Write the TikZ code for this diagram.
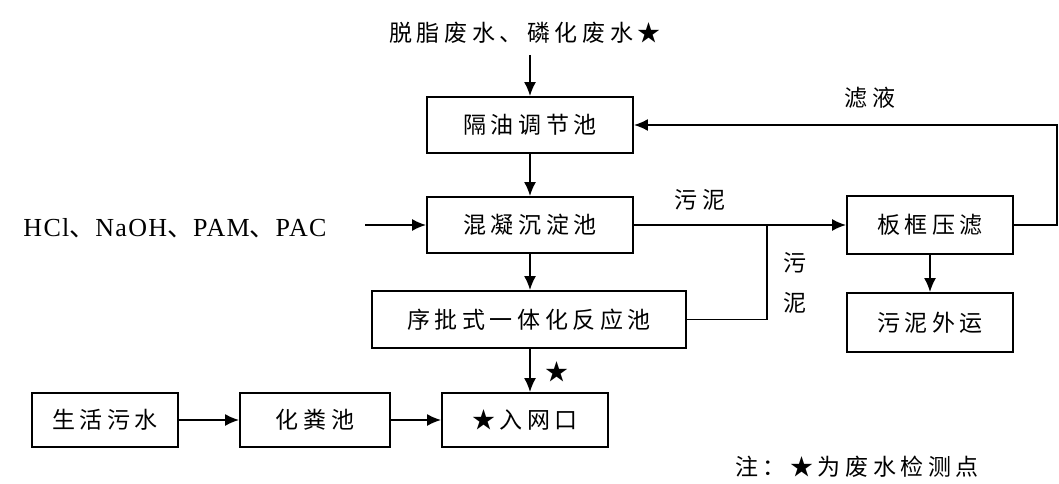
\documentclass[tikz,border=0pt]{standalone}
\usepackage{fontspec}
\setmainfont{Liberation Serif}
\newfontfamily\cjk[LetterSpace=20]{Noto Sans CJK SC}
\newfontfamily\latinsp[LetterSpace=5]{Liberation Serif}
\usetikzlibrary{arrows.meta}
\begin{document}
\begin{tikzpicture}[x=1pt,y=-1pt,
  box/.style={draw, line width=1.8pt, inner sep=0pt, font=\cjk\fontsize{23}{26}\selectfont},
  lbl/.style={inner sep=0pt, font=\cjk\fontsize{23}{26}\selectfont},
  conn/.style={line width=1.8pt},
  flow/.style={line width=1.8pt, -{Latex[length=14pt,width=12pt]}}]
\useasboundingbox (0,0) rectangle (1059,484);
% nodes
\node[lbl] (t0) at (525,33) {脱脂废水、磷化废水★};
\node[box, minimum width=206pt, minimum height=56pt] (b1) at (530,125) {隔油调节池};
\node[box, minimum width=206pt, minimum height=56pt] (b2) at (530,225) {混凝沉淀池};
\node[box, minimum width=314pt, minimum height=57pt] (b3) at (529,319.5) {序批式一体化反应池};
\node[box, minimum width=166pt, minimum height=58pt] (b4) at (930,225) {板框压滤};
\node[box, minimum width=166pt, minimum height=59pt] (b5) at (930,322.5) {污泥外运};
\node[box, minimum width=146pt, minimum height=54pt] (b6) at (105,420) {生活污水};
\node[box, minimum width=150pt, minimum height=54pt] (b7) at (315,420) {化粪池};
\node[box, minimum width=166pt, minimum height=54pt] (b8) at (525,420) {★入网口};
\node[inner sep=0pt, font=\latinsp\fontsize{26}{28}\selectfont] (tc) at (175,228) {HCl{\cjk 、}NaOH{\cjk 、}PAM{\cjk 、}PAC};
\node[lbl] (l1) at (700,200) {污泥};
\node[lbl] (l2) at (870,98) {滤液};
\node[lbl] (l3) at (795,263) {污};
\node[lbl] (l4) at (795,303) {泥};
\node[lbl] (l5) at (557,372) {★};
\node[lbl, anchor=west] (note) at (735,467) {注：★为废水检测点};
% coordinates
\coordinate (c0) at (530,55);
\coordinate (c1) at (365,225);
\coordinate (j) at (767,225);
\coordinate (r) at (1057,225);
% connectors
\draw[flow] (c0) -- (b1.north);
\draw[flow] (b1.south) -- (b2.north);
\draw[flow] (c1) -- (b2.west);
\draw[flow] (b2.south) -- (b3.north -| b2.south);
\draw[flow] (b2.east) -- (b4.west);
\draw[conn] (b3.east) -| (j);
\draw[flow] (b4.east) -- (r) |- (b1.east);
\draw[flow] (b4.south) -- (b5.north);
\draw[flow] (b3.south -| b2.south) -- (b8.north -| b2.south);
\draw[flow] (b6.east) -- (b7.west);
\draw[flow] (b7.east) -- (b8.west);
\end{tikzpicture}
\end{document}
